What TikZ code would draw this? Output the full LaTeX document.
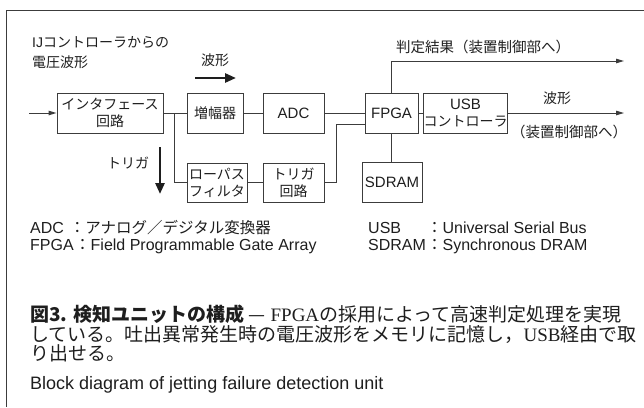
\documentclass[tikz,border=0pt]{standalone}
\usepackage{fontspec}
\setmainfont{Noto Sans CJK JP}
\newfontfamily\lat{Liberation Sans}
\newfontfamily\romfont{Liberation Serif}
\usetikzlibrary{arrows.meta}
\definecolor{linec}{HTML}{3C3C3C}
\definecolor{txt}{HTML}{1E1E1E}

\begin{document}
\begin{tikzpicture}[x=1pt,y=-1pt,
  blk/.style={draw=linec, line width=1pt, align=center, inner sep=0pt, text=txt,
              font=\fontsize{14}{17}\selectfont},
  wire/.style={draw=linec, line width=1pt},
  sig/.style={wire, -{Triangle[length=8pt,width=4.5pt]}},
  bigarrow/.style={draw=txt, line width=2.6pt, -{Triangle[length=11pt,width=9pt]}},
  lbl/.style={text=txt, inner sep=0pt, font=\fontsize{14}{17}\selectfont},
  legend/.style={text=txt, inner sep=0pt, anchor=base west, font=\fontsize{16}{18}\selectfont},
  capt/.style={text=txt, inner sep=0pt, anchor=base west, font=\fontsize{19}{21}\selectfont}]
\useasboundingbox (0,0) rectangle (644,407);

% frame
\draw[draw=linec, line width=1pt] (644,10) -- (6,10) -- (6,407);

% blocks
\node[blk, minimum width=106pt, minimum height=40pt] (ifc)   at (110,113)   {インタフェース\\回路};
\node[blk, minimum width=56pt,  minimum height=40pt] (amp)   at (215,113)   {増幅器};
\node[blk, minimum width=61pt,  minimum height=40pt] (adc)   at (293.5,113) {\lat\fontsize{15}{17}\selectfont ADC};
\node[blk, minimum width=60pt,  minimum height=39pt] (lpf)   at (217,182.5) {ローパス\\フィルタ};
\node[blk, minimum width=61pt,  minimum height=39pt] (trg)   at (293.5,182.5) {トリガ\\回路};
\node[blk, minimum width=53pt,  minimum height=40pt] (fpga)  at (391.5,113) {\lat\fontsize{15}{17}\selectfont FPGA};
\node[blk, minimum width=83pt,  minimum height=40pt] (usb)   at (465.5,113) {{\lat\fontsize{15}{17}\selectfont USB}\\コントローラ};
\node[blk, minimum width=60pt,  minimum height=40pt] (sdram) at (392,182)   {\lat\fontsize{15}{17}\selectfont SDRAM};

% free ends of the signals
\coordinate (in)   at (29,113);
\coordinate (res)  at (624,61);
\coordinate (wout) at (624,113);
\coordinate (br)   at (174,113);
\coordinate (tb)   at (336,124);

% connections
\draw[sig] (in) -- (ifc.west);
\draw[wire] (ifc.east) -- (amp.west);
\draw[wire] (br) |- (lpf.west);
\draw[wire] (amp.east) -- (adc.west);
\draw[wire] (lpf.east) -- (trg.west);
\draw[wire] (adc.east) -- (fpga.west);
\draw[wire] (trg.east) -| (tb) -- (tb -| fpga.west);
\draw[wire] (fpga.east) -- (usb.west);
\draw[wire] (fpga.south) -- (sdram.north -| fpga.south);
\draw[sig] (fpga.north) |- (res);
\draw[sig] (usb.east) -- (wout);

% signal direction hints
\coordinate (wa) at (195,78);
\coordinate (wb) at (236,78);
\coordinate (ta) at (160,147);
\coordinate (tbb) at (160,194);
\draw[bigarrow] (wa) -- (wb);
\draw[bigarrow] (ta) -- (tbb);

% labels
\node[lbl, anchor=base west] (src1) at (32,47) {{\lat IJ}コントローラからの};
\node[lbl, anchor=base west] (src2) at (32,67) {電圧波形};
\node[lbl] (wave1) at (215,60) {波形};
\node[lbl] (trig)  at (128,163) {トリガ};
\node[lbl, font=\fontsize{14.5}{17}\selectfont] (judge) at (483,47) {判定結果（装置制御部へ）};
\node[lbl] (wave2) at (557,98) {波形};
\node[lbl, font=\fontsize{14.5}{17}\selectfont] (dest)  at (569,132) {（装置制御部へ）};

% abbreviations
\node[legend] (l1) at (30,233) {\makebox[2.45em][l]{\lat ADC}：{\fontsize{15.5}{18}\selectfont アナログ／デジタル変換器}};
\node[legend] (l2) at (30,250) {\makebox[2.78em][l]{\lat FPGA}：{\lat Field Programmable Gate Array}};
\node[legend] (l3) at (368,233) {\makebox[3.65em][l]{\lat USB}：{\lat Universal Serial Bus}};
\node[legend] (l4) at (368,250) {\makebox[3.65em][l]{\lat SDRAM}：{\lat Synchronous DRAM}};

% caption
\node[capt] (c1) at (30,321) {{\bfseries 図3.\hspace{0.3em}検知ユニットの構成}\hspace{0.25em}—\hspace{0.25em}{\romfont FPGA}の採用によって高速判定処理を実現};
\node[capt] (c2) at (30,341) {している。吐出異常発生時の電圧波形をメモリに記憶し，{\romfont USB}経由で取};
\node[capt] (c3) at (30,360) {り出せる。};
\node[legend, font=\lat\fontsize{18}{20}\selectfont] (c4) at (30,389) {Block diagram of jetting failure detection unit};
\end{tikzpicture}
\end{document}
